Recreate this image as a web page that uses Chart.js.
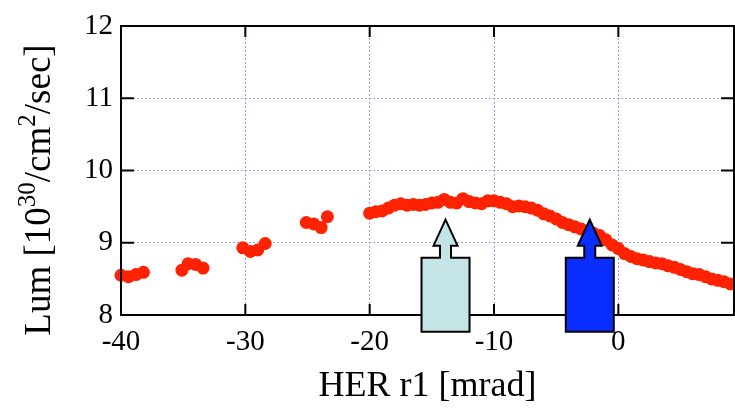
<!DOCTYPE html>
<html>
<head>
<meta charset="utf-8">
<script src="https://cdn.jsdelivr.net/npm/chart.js@4.4.0/dist/chart.umd.min.js"></script>
<style>
  html, body { margin: 0; padding: 0; background: #fff; }
</style>
</head>
<body>
<canvas id="canvas" width="735" height="413"></canvas>
<script>
// HER r1 scan : luminosity vs. angle
const scanX = [
  -40, -39.4, -38.8, -38.2,
  -35.1, -34.6, -34.0, -33.4,
  -30.2, -29.6, -29.0, -28.4,
  -25.1, -24.5, -23.9, -23.4,
  -20, -19.5, -19, -18.5, -18, -17.5, -17, -16.5, -16, -15.5,
  -15, -14.5, -14, -13.5, -13, -12.5, -12, -11.5, -11, -10.5,
  -10, -9.5, -9, -8.5, -8, -7.5, -7, -6.5, -6, -5.5,
  -5, -4.5, -4, -3.5, -3, -2.5, -2, -1.5, -1, -0.5,
  0, 0.5, 1, 1.5, 2, 2.5, 3, 3.5, 4, 4.5,
  5, 5.5, 6, 6.5, 7, 7.5, 8, 8.5, 9
];
const scanLum = [
  8.55, 8.53, 8.56, 8.59,
  8.62, 8.71, 8.70, 8.65,
  8.93, 8.88, 8.90, 8.99,
  9.28, 9.26, 9.21, 9.36,
  9.41, 9.43, 9.44, 9.48, 9.52, 9.54, 9.52, 9.53, 9.52, 9.53,
  9.55, 9.56, 9.60, 9.56, 9.55, 9.61, 9.57, 9.55, 9.54, 9.58,
  9.58, 9.56, 9.54, 9.50, 9.51, 9.50, 9.48, 9.45, 9.40, 9.37,
  9.33, 9.28, 9.25, 9.22, 9.19, 9.16, 9.13, 9.10, 9.04, 8.97,
  8.92, 8.85, 8.81, 8.78, 8.76, 8.74, 8.72, 8.71, 8.68, 8.66,
  8.63, 8.60, 8.57, 8.56, 8.53, 8.50, 8.48, 8.46, 8.43
];
const xRange = [-40, 9.3];
const yRange = [8, 12];

// arrows marking the two settings
const arrowX = [-13.9, -2.3];
const arrowTip = 9.32;
const arrowFill = ['#c5e4e6', '#0a2eff'];

const serif = "'Liberation Serif', 'DejaVu Serif', serif";

const points = scanX.map((x, i) => ({x: x, y: scanLum[i]}));

const framePlugin = {
  id: 'frame',
  afterDatasetsDraw(chart) {
    const ctx = chart.ctx;
    const a = chart.chartArea;
    const xs = chart.scales.x, ys = chart.scales.y;
    ctx.save();
    ctx.strokeStyle = '#000';
    ctx.lineWidth = 2;
    ctx.strokeRect(a.left, a.top, a.right - a.left, a.bottom - a.top);
    ctx.beginPath();
    ys.ticks.forEach(t => {
      if (t.value <= yRange[0] || t.value >= yRange[1]) return;
      const py = ys.getPixelForValue(t.value);
      ctx.moveTo(a.left, py); ctx.lineTo(a.left + 13, py);
      ctx.moveTo(a.right, py); ctx.lineTo(a.right - 13, py);
    });
    xs.ticks.forEach(t => {
      if (t.value <= xRange[0]) return;
      const px = xs.getPixelForValue(t.value);
      ctx.moveTo(px, a.bottom); ctx.lineTo(px, a.bottom - 11);
      ctx.moveTo(px, a.top); ctx.lineTo(px, a.top + 11);
    });
    ctx.stroke();

    // arrows
    arrowX.forEach((v, i) => {
      const cx = xs.getPixelForValue(v);
      const tip = ys.getPixelForValue(arrowTip);
      const head = tip + 26, boxTop = tip + 38, boxBot = tip + 112;
      ctx.beginPath();
      ctx.moveTo(cx, tip);
      ctx.lineTo(cx + 12, head);
      ctx.lineTo(cx + 5.5, head);
      ctx.lineTo(cx + 5.5, boxTop);
      ctx.lineTo(cx + 24, boxTop);
      ctx.lineTo(cx + 24, boxBot);
      ctx.lineTo(cx - 24, boxBot);
      ctx.lineTo(cx - 24, boxTop);
      ctx.lineTo(cx - 5.5, boxTop);
      ctx.lineTo(cx - 5.5, head);
      ctx.lineTo(cx - 12, head);
      ctx.closePath();
      ctx.fillStyle = arrowFill[i];
      ctx.fill();
      ctx.lineWidth = 2;
      ctx.lineJoin = 'miter';
      ctx.stroke();
    });

    // y axis title with superscripts
    const parts = [
      ['Lum [10', 37, 0], ['30', 25, -15], ['/cm', 37, 0],
      ['2', 25, -15], ['/sec]', 37, 0]
    ];
    let w = 0;
    parts.forEach(p => { ctx.font = p[1] + 'px ' + serif; w += ctx.measureText(p[0]).width; });
    ctx.translate(50, 190);
    ctx.rotate(-Math.PI / 2);
    ctx.fillStyle = '#000';
    ctx.textBaseline = 'alphabetic';
    ctx.textAlign = 'left';
    let x = -w / 2;
    parts.forEach(p => {
      ctx.font = p[1] + 'px ' + serif;
      ctx.fillText(p[0], x, p[2]);
      x += ctx.measureText(p[0]).width;
    });
    ctx.restore();
  }
};

const ctx = document.getElementById('canvas').getContext('2d');
const chart = new Chart(ctx, {
  type: 'scatter',
  data: {
    datasets: [{
      data: points,
      backgroundColor: '#ff2200',
      borderColor: '#ff2200',
      borderWidth: 0,
      pointRadius: 6.5,
      pointHoverRadius: 6.5,
      clip: false
    }]
  },
  options: {
    responsive: false,
    animation: false,
    devicePixelRatio: 1,
    layout: { autoPadding: false, padding: { top: 26, right: 1, left: 0, bottom: 0 } },
    plugins: { legend: { display: false }, tooltip: { enabled: false } },
    scales: {
      x: {
        type: 'linear',
        min: xRange[0],
        max: xRange[1],
        afterFit: s => { s.height = 98; s.paddingRight = 0; s.paddingLeft = 0; },
        ticks: {
          stepSize: 10,
          includeBounds: false,
          color: '#000',
          padding: 10,
          maxRotation: 0,
          font: { family: serif, size: 29 }
        },
        grid: { color: '#9c9cff', lineWidth: 1, drawTicks: false },
        border: { display: false, dash: [2, 2] },
        title: {
          display: true,
          text: 'HER r1 [mrad]',
          color: '#000',
          padding: { top: 5, bottom: 5 },
          font: { family: serif, size: 36 }
        }
      },
      y: {
        min: yRange[0],
        max: yRange[1],
        afterFit: s => { s.width = 121; },
        ticks: {
          stepSize: 1,
          color: '#000',
          padding: 8,
          font: { family: serif, size: 29 }
        },
        grid: { color: '#9c9cff', lineWidth: 1, drawTicks: false },
        border: { display: false, dash: [2, 2] }
      }
    }
  },
  plugins: [framePlugin]
});
</script>
</body>
</html>
